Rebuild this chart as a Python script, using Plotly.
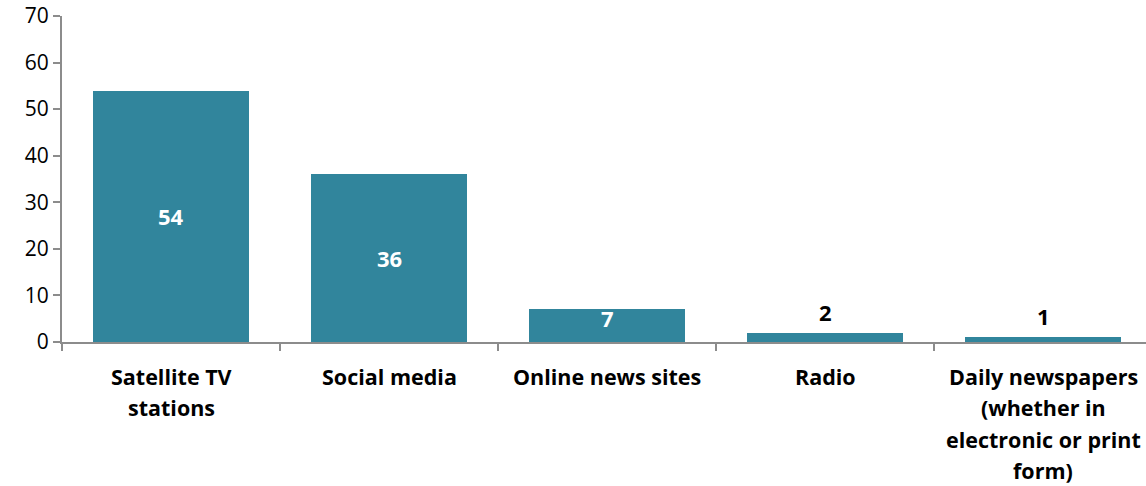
import plotly.graph_objects as go

# Share of respondents by main news source (%)
categories = [
    "Satellite TV<br>stations",
    "Social media",
    "Online news sites",
    "Radio",
    "Daily newspapers<br>(whether in<br>electronic or print<br>form)",
]
values = [54, 36, 7, 2, 1]

BAR_COLOR = "#31859C"
AXIS_COLOR = "#8C8C8C"
FONT = "'Open Sans', Lato, sans-serif"
LINE_GAP = 31.5  # px between lines of a category label

positions = list(range(len(categories)))

fig = go.Figure()
fig.add_trace(go.Bar(
    x=positions,
    y=values,
    marker=dict(color=BAR_COLOR, line=dict(width=0)),
    width=0.715,
    hoverinfo="skip",
))

# Value labels: centred in tall bars (white), above short bars (black)
for i, v in enumerate(values):
    if v >= 5:
        y, shift, color = v / 2, (8 if v < 10 else 0), "white"
    else:
        y, shift, color = v, 21, "black"
    fig.add_annotation(
        x=i, y=y, text=f"<b>{v}</b>", showarrow=False,
        yanchor="middle", yshift=shift,
        font=dict(family=FONT, size=22, color=color),
    )

# Category labels, one annotation per line for wider line spacing
for i, cat in enumerate(categories):
    for j, line in enumerate(cat.split("<br>")):
        fig.add_annotation(
            x=i, xref="x", y=0, yref="paper", text=f"<b>{line}</b>",
            showarrow=False, yanchor="middle", yshift=-34 - j * LINE_GAP,
            borderpad=0,
            font=dict(family=FONT, size=21.5, color="black"),
        )

fig.update_layout(
    width=1146, height=486,
    margin=dict(l=62, r=0, t=16, b=144),
    plot_bgcolor="white", paper_bgcolor="white",
    showlegend=False,
    font=dict(family=FONT, size=20, color="black"),
    bargap=0,
)
# Tick marks sit on the boundaries between categories
fig.update_xaxes(
    range=[-0.5, 4.472],
    tickmode="array",
    tickvals=[p - 0.5 for p in positions],
    showticklabels=False,
    showline=True, linecolor=AXIS_COLOR, linewidth=2,
    ticks="outside", ticklen=7, tickcolor=AXIS_COLOR, tickwidth=2,
    showgrid=False, zeroline=False, fixedrange=True,
)
fig.update_yaxes(
    range=[0, 70], dtick=10,
    tickfont=dict(family=FONT, size=21, color="black"),
    showline=True, linecolor=AXIS_COLOR, linewidth=2,
    ticks="outside", ticklen=7, tickcolor=AXIS_COLOR, tickwidth=2,
    showgrid=False, zeroline=False, fixedrange=True,
)

fig.write_html("out.html")
